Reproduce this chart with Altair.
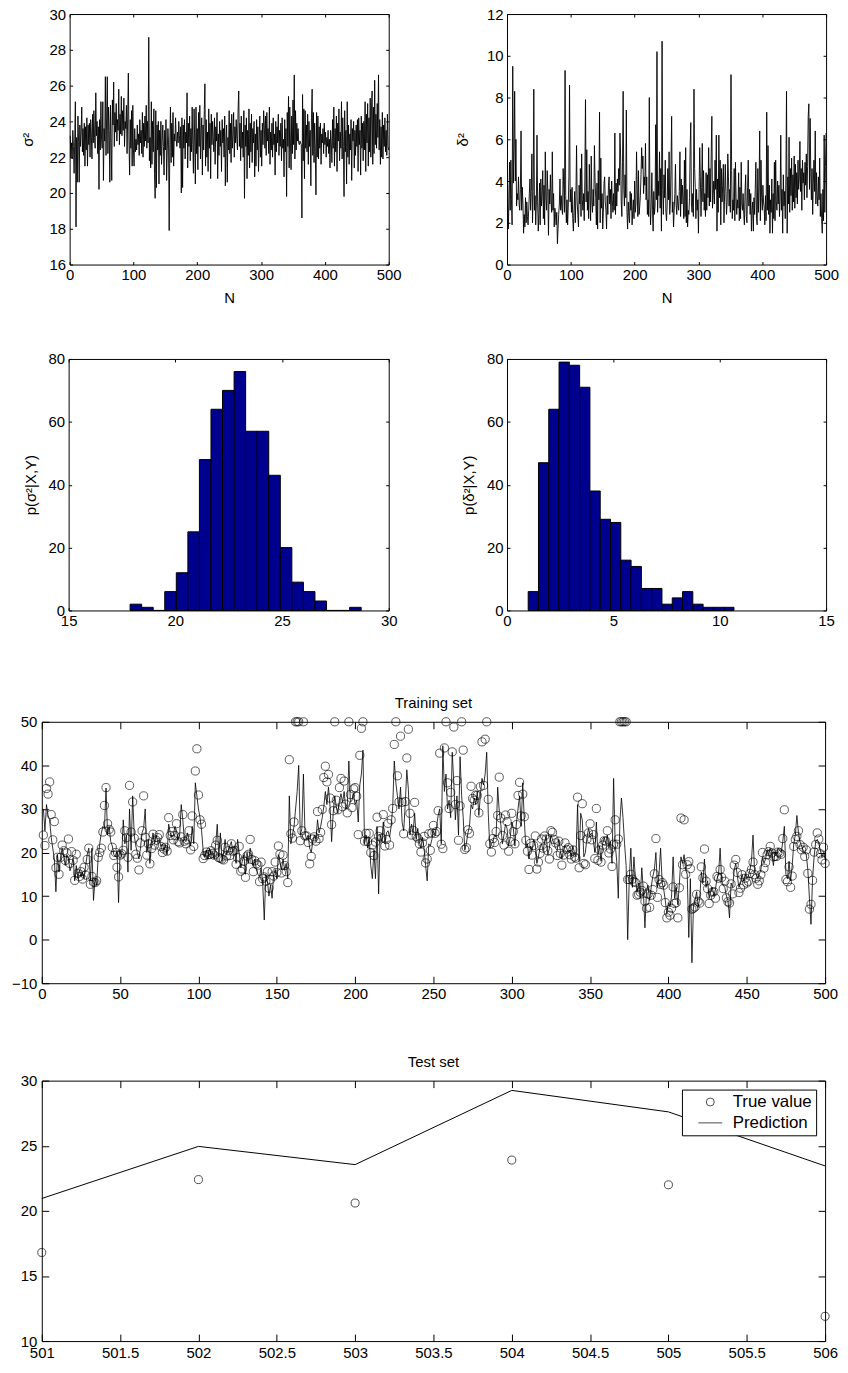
import altair as alt
import pandas as pd

FONT = "Liberation Sans"
FS = 15

# ---------------- data ----------------
sigma2 = [
    23.2, 22.0, 22.8, 21.9, 23.5, 22.6, 21.1, 23.0, 25.1, 18.1, 23.1, 20.6, 24.3, 22.9, 20.6, 23.8, 22.6, 23.4, 24.8, 22.3, 23.6, 22.1, 23.9, 21.5, 23.7,
    22.4, 24.2, 21.5, 23.8, 22.7, 23.9, 22.0, 24.1, 23.3, 21.9, 24.4, 22.8, 24.6, 23.1, 22.5, 25.6, 23.2, 24.0, 22.2, 23.7, 20.2, 24.1, 22.4, 25.1, 23.0,
    22.5, 25.1, 20.7, 23.6, 22.9, 26.5, 22.1, 24.3, 26.5, 22.2, 24.8, 23.5, 20.6, 24.9, 22.8, 20.7, 25.2, 23.8, 26.2, 22.6, 24.5, 23.4, 25.0, 22.9, 24.1,
    23.5, 25.8, 22.7, 24.4, 23.3, 25.4, 23.2, 24.6, 23.5, 25.3, 22.6, 24.0, 23.6, 24.9, 22.2, 24.3, 26.7, 22.9, 21.0, 24.1, 22.5, 24.6, 21.5, 24.9, 22.4,
    21.5, 23.6, 22.3, 23.0, 22.4, 23.8, 22.7, 23.3, 22.1, 24.1, 22.8, 23.5, 22.2, 24.5, 22.0, 23.9, 22.6, 24.3, 22.9, 24.9, 22.5, 24.0, 22.8, 28.7, 21.8,
    23.1, 21.4, 25.1, 21.6, 24.0, 22.3, 24.7, 21.1, 19.7, 24.6, 20.3, 23.8, 22.4, 24.0, 20.5, 23.5, 22.1, 24.0, 21.6, 22.9, 23.8, 22.6, 21.0, 23.5, 22.4,
    24.1, 20.7, 22.4, 23.6, 22.8, 17.9, 22.7, 24.8, 21.7, 23.9, 22.0, 24.5, 21.5, 23.3, 22.9, 24.2, 23.0, 22.6, 23.4, 22.8, 24.0, 23.2, 22.5, 23.7, 20.0,
    24.2, 20.3, 23.8, 22.5, 24.1, 21.9, 23.4, 22.8, 25.6, 21.4, 23.9, 22.6, 24.3, 21.8, 23.6, 22.3, 24.8, 22.7, 21.1, 24.7, 22.9, 20.5, 24.8, 22.2, 23.6,
    21.3, 24.5, 22.6, 24.9, 21.9, 23.5, 24.2, 21.0, 23.8, 22.4, 24.6, 26.1, 21.5, 24.1, 22.0, 23.4, 21.2, 24.7, 22.5, 23.9, 20.8, 24.4, 22.7, 24.0, 23.1,
    22.3, 24.2, 21.6, 23.7, 22.9, 24.5, 20.8, 23.3, 22.1, 24.0, 22.6, 23.5, 21.2, 24.1, 22.8, 23.6, 22.0, 24.3, 20.4, 22.9, 23.8, 20.6, 23.1, 22.4, 24.6,
    22.2, 23.9, 21.7, 24.4, 22.5, 23.2, 24.5, 22.0, 23.7, 22.8, 24.1, 23.0, 22.4, 24.7, 25.7, 22.6, 23.9, 21.8, 24.3, 22.5, 23.4, 22.0, 24.6, 19.7, 23.8,
    22.6, 24.2, 20.8, 23.5, 22.1, 24.7, 21.4, 23.9, 22.3, 24.4, 21.7, 23.6, 22.8, 24.0, 20.9, 23.3, 21.5, 24.1, 22.4, 23.7, 21.2, 22.9, 24.3, 22.0, 23.5,
    21.5, 23.9, 22.7, 24.6, 23.8, 22.5, 24.3, 22.1, 24.5, 22.9, 23.6, 22.2, 24.8, 21.6, 23.4, 22.4, 23.9, 22.0, 24.2, 22.7, 23.3, 21.0, 24.0, 22.3, 23.7,
    22.8, 24.4, 22.1, 23.5, 22.6, 23.9, 21.8, 24.2, 22.5, 23.0, 20.9, 24.1, 22.3, 23.6, 19.8, 24.5, 22.6, 25.4, 21.4, 24.8, 22.9, 21.3, 24.3, 22.2, 25.2,
    22.7, 26.6, 21.9, 24.6, 22.4, 23.9, 22.9, 23.6, 22.8, 22.7, 22.9, 22.8, 22.7, 18.6, 25.5, 21.8, 24.7, 20.8, 24.6, 22.5, 23.8, 22.3, 24.4, 21.6, 24.0,
    22.6, 23.5, 20.4, 24.2, 25.8, 22.1, 24.5, 21.7, 23.9, 22.3, 19.9, 24.5, 22.0, 24.3, 21.9, 23.7, 22.5, 23.9, 21.6, 23.3, 22.8, 23.6, 22.2, 23.9, 22.7,
    23.4, 22.0, 23.1, 22.6, 23.5, 22.2, 23.0, 21.4, 23.5, 22.8, 21.7, 24.1, 22.5, 24.8, 21.5, 23.6, 22.3, 24.3, 21.2, 23.9, 22.9, 24.7, 21.8, 23.4, 22.5,
    25.1, 21.9, 24.2, 22.6, 19.8, 24.6, 22.3, 23.5, 20.5, 25.1, 22.0, 23.8, 21.6, 23.3, 22.4, 24.1, 20.7, 23.6, 22.9, 24.0, 21.4, 23.5, 22.1, 23.8, 22.6,
    24.1, 21.2, 24.2, 22.7, 23.5, 21.0, 24.3, 22.5, 23.9, 21.8, 24.0, 22.4, 25.1, 21.2, 24.4, 22.8, 25.0, 21.5, 24.2, 22.3, 25.3, 22.0, 24.7, 25.7, 21.6,
    24.8, 22.2, 26.3, 22.7, 24.4, 22.5, 25.0, 23.1, 26.6, 22.4, 24.1, 21.6, 23.7, 22.0, 24.5, 21.9, 23.8, 22.6, 24.2, 22.3, 23.5, 22.1, 24.4, 22.6, 22.4,
]

delta2 = [
    3.8, 1.7, 2.9, 4.9, 2.6, 5.0, 3.1, 1.9, 9.5, 3.9, 5.6, 8.3, 4.0, 6.0, 2.8, 3.4, 3.1, 4.2, 2.9, 2.6, 3.6, 6.4, 2.6, 3.7, 2.9,
    1.5, 2.4, 1.8, 3.2, 2.0, 3.0, 2.3, 1.9, 2.6, 3.4, 4.1, 2.6, 3.5, 5.3, 2.0, 3.5, 8.4, 2.6, 3.3, 1.9, 2.9, 6.2, 3.0, 1.6, 2.5,
    3.9, 1.9, 4.1, 2.8, 3.3, 4.5, 2.2, 3.8, 1.9, 5.4, 3.2, 2.6, 4.5, 3.5, 1.4, 3.6, 2.9, 4.3, 3.0, 2.5, 5.4, 2.6, 3.4, 1.8, 2.7,
    2.4, 1.9, 2.5, 1.0, 1.7, 2.4, 2.9, 4.1, 2.6, 3.3, 2.7, 2.4, 4.6, 3.6, 2.5, 9.3, 3.3, 2.0, 3.1, 1.9, 2.8, 4.2, 8.6, 3.0, 3.6,
    2.5, 3.7, 2.2, 1.6, 2.6, 3.5, 2.0, 3.3, 5.7, 3.0, 2.4, 1.8, 3.8, 2.9, 4.6, 2.3, 5.3, 3.1, 2.6, 3.4, 2.1, 4.1, 7.9, 3.0, 5.5,
    2.6, 3.5, 2.2, 4.8, 3.3, 2.1, 5.2, 3.0, 2.5, 3.6, 2.8, 5.7, 4.0, 3.2, 1.9, 3.9, 1.7, 4.5, 3.1, 7.3, 2.0, 5.1, 2.7, 3.4, 1.7,
    2.5, 3.9, 4.2, 3.0, 2.6, 1.7, 3.3, 2.4, 3.8, 4.2, 2.9, 3.6, 2.2, 4.0, 3.1, 2.5, 3.4, 2.6, 6.3, 2.4, 3.9, 2.8, 4.1, 3.5, 4.6,
    3.8, 6.3, 5.2, 3.0, 2.3, 4.9, 8.3, 3.6, 2.8, 4.3, 3.2, 7.4, 2.5, 1.7, 3.0, 2.3, 2.0, 3.5, 2.6, 3.4, 1.9, 2.6, 3.1, 2.2, 4.0,
    2.5, 2.9, 5.4, 3.6, 2.3, 4.5, 2.4, 2.8, 3.3, 4.3, 5.6, 4.6, 5.2, 3.4, 4.2, 3.8, 5.8, 3.1, 4.2, 2.4, 3.1, 2.3, 8.0, 2.9, 1.9,
    3.0, 4.4, 2.6, 1.6, 3.5, 2.4, 2.8, 6.7, 3.1, 10.2, 2.5, 4.0, 3.3, 5.4, 2.7, 4.6, 1.6, 10.7, 3.6, 2.4, 4.3, 3.2, 5.0, 2.5, 2.1,
    2.9, 4.6, 3.1, 5.4, 2.4, 3.0, 4.8, 7.1, 2.5, 3.0, 1.8, 2.6, 3.4, 4.8, 2.9, 2.4, 3.3, 2.9, 2.6, 3.5, 5.4, 2.3, 4.1, 2.9, 3.8,
    3.2, 2.2, 5.0, 2.3, 5.6, 2.0, 3.6, 1.8, 2.6, 2.4, 3.2, 5.6, 6.8, 2.9, 2.5, 3.4, 2.3, 8.4, 4.6, 3.7, 2.2, 3.6, 2.6, 3.1, 1.5,
    3.6, 5.6, 4.2, 2.3, 3.7, 5.8, 3.0, 4.5, 2.6, 3.4, 2.3, 4.4, 2.6, 4.3, 3.2, 5.6, 2.8, 4.6, 3.0, 5.3, 7.1, 2.7, 3.4, 4.0, 2.9,
    5.0, 3.6, 6.2, 1.6, 4.1, 2.5, 6.2, 3.2, 5.0, 1.9, 4.6, 3.0, 3.8, 4.8, 2.0, 3.4, 4.8, 3.5, 2.4, 3.0, 5.3, 4.2, 2.8, 3.6, 2.5,
    9.1, 4.5, 2.2, 3.1, 2.6, 4.6, 2.1, 4.9, 3.2, 2.4, 3.1, 2.7, 4.4, 2.1, 3.7, 2.2, 4.9, 2.9, 2.6, 3.4, 2.4, 1.9, 3.5, 4.3, 2.3,
    2.0, 3.7, 5.0, 2.8, 3.6, 2.4, 3.4, 1.6, 2.6, 3.0, 1.6, 3.2, 2.4, 3.6, 4.9, 2.2, 1.9, 4.6, 2.5, 3.7, 6.4, 2.1, 5.0, 3.2, 2.6,
    3.8, 3.0, 2.7, 1.9, 3.3, 2.1, 7.3, 2.6, 5.7, 2.4, 3.8, 1.5, 3.1, 2.5, 4.1, 1.5, 3.4, 2.2, 4.9, 2.1, 5.0, 3.0, 2.6, 4.0, 2.9,
    3.8, 2.3, 3.2, 6.2, 2.6, 3.6, 1.5, 4.3, 2.8, 3.5, 2.2, 4.1, 8.3, 1.5, 4.2, 2.9, 6.1, 2.5, 4.6, 3.3, 5.1, 2.6, 4.3, 3.0, 5.2,
    2.7, 4.8, 3.2, 4.4, 2.9, 5.0, 3.6, 4.1, 5.9, 3.5, 4.6, 2.6, 5.0, 3.9, 4.4, 3.1, 4.9, 3.8, 5.3, 3.2, 4.7, 7.1, 7.7, 3.6, 7.0,
    4.4, 3.1, 4.6, 2.4, 3.9, 5.0, 3.5, 6.4, 2.9, 4.4, 3.3, 2.8, 4.2, 3.1, 5.1, 2.3, 3.4, 2.2, 1.5, 3.6, 2.1, 6.2, 2.5, 4.7, 6.3,
]

sigma_edges = [17.880, 18.422, 18.963, 19.505, 20.046, 20.588, 21.129, 21.671, 22.212, 22.754, 23.295,
               23.837, 24.378, 24.920, 25.461, 26.003, 26.544, 27.086, 27.627, 28.169, 28.710]
sigma_counts = [2, 1, 0, 6, 12, 25, 48, 64, 70, 76, 57, 57, 43, 20, 9, 6, 3, 0, 0, 1]

delta_edges = [0.996, 1.480, 1.963, 2.447, 2.931, 3.415, 3.898, 4.382, 4.866, 5.349, 5.833,
               6.317, 6.800, 7.284, 7.768, 8.252, 8.735, 9.219, 9.703, 10.186, 10.670]
delta_counts = [6, 47, 64, 79, 78, 71, 38, 29, 28, 16, 14, 7, 7, 2, 4, 6, 2, 1, 1, 1]

train_true = [
    24.0, 21.6, 34.7, 33.4, 36.2, 28.7, 22.9, 27.1, 16.5, 18.9,
    15.0, 18.9, 21.7, 20.4, 18.2, 19.9, 23.1, 17.5, 20.2, 18.2,
    13.6, 19.6, 15.2, 14.5, 15.6, 13.9, 16.6, 14.8, 18.4, 21.0,
    12.7, 14.5, 13.2, 13.1, 13.5, 18.9, 20.0, 21.0, 24.7, 30.8,
    34.9, 26.6, 25.3, 24.7, 21.2, 19.3, 20.0, 16.6, 14.4, 19.4,
    19.7, 20.5, 25.0, 23.4, 18.9, 35.4, 24.7, 31.6, 23.3, 19.6,
    18.7, 16.0, 22.2, 25.0, 33.0, 23.5, 19.4, 22.0, 17.4, 20.9,
    24.2, 21.7, 22.8, 23.4, 24.1, 21.4, 20.0, 20.8, 21.2, 20.3,
    28.0, 23.9, 24.8, 22.9, 23.9, 26.6, 22.5, 22.2, 23.6, 28.7,
    22.6, 22.0, 22.9, 25.0, 20.6, 28.4, 21.4, 38.7, 43.8, 33.2,
    27.5, 26.5, 18.6, 19.3, 20.1, 19.5, 19.5, 20.4, 19.8, 19.4,
    21.7, 22.8, 18.8, 18.7, 18.5, 18.3, 21.2, 19.2, 20.4, 19.3,
    22.0, 20.3, 20.5, 17.3, 18.8, 21.4, 15.7, 16.2, 18.0, 14.3,
    19.2, 19.6, 23.0, 18.4, 15.6, 18.1, 17.4, 17.1, 13.3, 17.8,
    14.0, 14.4, 13.4, 15.6, 11.8, 13.8, 15.6, 14.6, 17.8, 15.4,
    21.5, 19.6, 15.3, 19.4, 17.0, 15.6, 13.1, 41.3, 24.3, 23.3,
    27.0, 50.0, 50.0, 50.0, 22.7, 25.0, 50.0, 23.8, 23.8, 22.3,
    17.4, 19.1, 23.1, 23.6, 22.6, 29.4, 23.2, 24.6, 29.9, 37.2,
    39.8, 36.2, 37.9, 32.5, 26.4, 29.6, 50.0, 32.0, 29.8, 34.9,
    37.0, 30.5, 36.4, 31.1, 29.1, 50.0, 33.3, 30.3, 34.6, 34.9,
    32.9, 24.1, 42.3, 48.5, 50.0, 22.6, 24.4, 22.5, 24.4, 20.0,
    21.7, 19.3, 22.4, 28.1, 23.7, 25.0, 23.3, 28.7, 21.5, 23.0,
    26.7, 21.7, 27.5, 30.1, 44.8, 50.0, 37.6, 31.6, 46.7, 31.5,
    24.3, 31.7, 41.7, 48.3, 29.0, 24.0, 25.1, 31.5, 23.7, 23.3,
    22.0, 20.1, 22.2, 23.7, 17.6, 18.5, 24.3, 20.5, 24.5, 26.2,
    24.4, 24.8, 29.6, 42.8, 21.9, 20.9, 44.0, 50.0, 36.0, 30.1,
    33.8, 43.1, 48.8, 31.0, 36.5, 22.8, 30.7, 50.0, 43.5, 20.7,
    21.1, 25.2, 24.4, 35.2, 32.4, 32.0, 33.2, 33.1, 29.1, 35.1,
    45.4, 35.4, 46.0, 50.0, 32.2, 22.0, 20.1, 23.2, 22.3, 24.8,
    28.5, 37.3, 27.9, 23.9, 21.7, 28.6, 27.1, 20.3, 22.5, 29.0,
    24.8, 22.0, 26.4, 33.1, 36.1, 28.4, 33.4, 28.2, 22.8, 20.3,
    16.1, 22.1, 19.4, 21.6, 23.8, 16.2, 17.8, 19.8, 23.1, 21.0,
    23.8, 23.1, 20.4, 18.5, 25.0, 24.6, 23.0, 22.2, 19.3, 22.6,
    19.8, 17.1, 19.4, 22.2, 20.7, 21.1, 19.5, 18.5, 20.6, 19.0,
    18.7, 32.7, 16.5, 23.9, 31.2, 17.5, 17.2, 23.1, 24.5, 26.6,
    22.9, 24.1, 18.6, 30.1, 18.2, 20.6, 17.8, 21.7, 22.7, 22.6,
    25.0, 19.9, 20.8, 16.8, 21.9, 27.5, 21.9, 23.1, 50.0, 50.0,
    50.0, 50.0, 50.0, 13.8, 13.8, 15.0, 13.9, 13.3, 13.1, 10.2,
    10.4, 10.9, 11.3, 12.3, 8.8, 7.2, 10.5, 7.4, 10.2, 11.5,
    15.1, 23.2, 9.7, 13.8, 12.7, 13.1, 12.5, 8.5, 5.0, 6.3,
    5.6, 7.2, 12.1, 8.3, 8.5, 5.0, 11.9, 27.9, 17.2, 27.5,
    15.0, 17.2, 17.9, 16.3, 7.0, 7.2, 7.5, 10.4, 8.8, 8.4,
    16.7, 14.2, 20.8, 13.4, 11.7, 8.3, 10.2, 10.9, 11.0, 9.5,
    14.5, 14.1, 16.1, 14.3, 11.7, 13.4, 9.6, 8.7, 8.4, 12.8,
    10.5, 17.1, 18.4, 15.4, 10.8, 11.8, 14.9, 12.6, 14.1, 13.0,
    13.4, 15.2, 16.1, 17.8, 14.9, 14.1, 12.7, 13.5, 14.9, 20.0,
    16.4, 17.7, 19.5, 20.2, 21.4, 19.9, 19.0, 19.1, 19.1, 20.1,
    19.9, 19.6, 23.2, 29.8, 13.8, 13.3, 16.7, 12.0, 14.6, 21.4,
    23.0, 23.7, 25.0, 21.8, 20.6, 21.2, 19.1, 20.6, 15.2, 7.0,
    8.1, 13.6, 20.1, 21.8, 24.5, 23.1, 19.7, 18.3, 21.2, 17.5,
]

train_pred = [
    30.0, 25.0, 31.0, 28.5, 27.5, 23.5, 21.0, 18.5, 11.0, 19.5,
    15.5, 19.0, 21.0, 19.0, 17.0, 19.5, 18.5, 15.8, 17.0, 18.8,
    13.5, 17.0, 14.0, 16.0, 14.5, 15.5, 14.0, 17.0, 19.5, 21.0,
    13.5, 21.0, 9.0, 14.0, 12.5, 19.0, 22.0, 24.5, 26.0, 25.5,
    34.8, 24.0, 26.0, 22.5, 21.5, 19.5, 19.0, 20.5, 8.5, 20.5,
    19.0, 27.5, 22.0, 24.0, 15.5, 30.0, 20.5, 33.0, 24.0, 21.5,
    20.0, 18.5, 21.0, 24.5, 25.5, 30.0, 20.0, 23.0, 17.5, 22.5,
    24.5, 22.0, 24.0, 22.5, 23.0, 21.5, 22.0, 20.5, 21.8, 19.5,
    26.5, 24.5, 23.5, 24.0, 26.0, 25.0, 23.0, 24.0, 31.0, 27.5,
    23.0, 22.5, 24.5, 23.0, 21.5, 26.0, 22.0, 36.0, 33.0, 30.0,
    28.0, 25.0, 20.5, 19.0, 20.5, 18.5, 21.0, 19.5, 20.0, 18.5,
    22.0, 26.5, 19.0, 24.5, 18.0, 20.0, 23.0, 19.5, 20.5, 21.5,
    22.5, 20.0, 21.5, 17.5, 23.0, 20.0, 16.5, 18.0, 19.5, 15.0,
    20.0, 17.5, 21.0, 19.0, 17.0, 18.5, 16.0, 15.0, 14.5, 16.5,
    13.0, 4.5, 15.0, 13.5, 10.0, 12.5, 9.5, 15.0, 16.0, 14.0,
    19.5, 18.0, 16.0, 18.5, 16.0, 17.5, 14.0, 33.0, 22.0, 24.0,
    26.0, 30.0, 34.0, 40.0, 24.0, 25.5, 38.0, 24.5, 23.0, 24.0,
    21.0, 20.0, 22.5, 24.0, 23.0, 27.5, 24.5, 26.0, 28.0, 30.5,
    34.0, 31.0, 35.0, 30.5, 22.5, 29.0, 33.0, 30.5, 29.0, 32.0,
    33.5, 31.5, 34.0, 30.0, 30.5, 41.0, 31.5, 32.0, 33.5, 31.0,
    32.0, 27.0, 35.5, 38.0, 43.5, 22.0, 24.0, 21.0, 23.5, 17.0,
    14.0, 20.5, 14.0, 26.0, 10.5, 24.0, 22.5, 27.0, 22.0, 24.5,
    25.0, 23.5, 26.0, 30.5, 41.0, 36.0, 33.0, 30.0, 35.0, 27.0,
    25.0, 31.0, 39.0, 34.5, 24.0, 26.5, 24.5, 29.0, 23.0, 25.5,
    22.5, 21.0, 23.5, 21.0, 17.0, 13.5, 22.0, 21.5, 23.0, 25.0,
    24.0, 26.0, 28.5, 30.0, 22.0, 44.5, 34.0, 38.0, 30.0, 32.0,
    28.0, 43.0, 36.0, 27.5, 33.0, 24.0, 42.0, 33.0, 28.0, 20.5,
    22.0, 24.5, 26.0, 31.0, 30.0, 32.5, 31.0, 34.0, 28.5, 33.5,
    37.0, 35.5, 38.0, 43.0, 29.0, 21.0, 22.0, 22.5, 24.0, 23.5,
    35.0, 29.5, 26.5, 22.0, 24.0, 26.5, 25.5, 21.5, 23.5, 27.0,
    25.5, 21.5, 27.0, 30.0, 33.0, 26.0, 36.0, 27.5, 21.0, 22.0,
    18.5, 21.5, 20.5, 23.0, 22.0, 17.5, 19.0, 21.0, 22.0, 20.5,
    22.5, 24.0, 19.5, 21.0, 24.0, 23.0, 22.0, 21.0, 20.5, 23.0,
    20.5, 18.5, 20.5, 21.5, 21.0, 20.0, 20.5, 19.0, 21.5, 20.0,
    19.0, 31.0, 18.0, 29.0, 27.5, 19.0, 20.0, 23.5, 25.5, 24.0,
    24.5, 23.0, 20.0, 27.0, 19.5, 21.5, 18.0, 22.0, 23.5, 22.0,
    24.0, 21.0, 22.5, 17.5, 37.0, 22.0, 18.0, 9.5, 27.0, 32.5,
    28.0, 22.0, 17.0, 0.0, 14.0, 21.0, 12.0, 19.0, 13.5, 11.0,
    13.0, 9.5, 16.5, 11.0, 2.7, 11.0, 12.5, 9.0, 12.0, 14.5,
    16.0, 20.0, 12.0, 15.0, 21.0, 13.0, 11.5, 9.0, 6.0, 8.5,
    7.5, 10.0, 19.0, 9.5, 12.0, 8.0, 13.0, 19.0, 17.5, 19.5,
    16.0, 15.0, 0.5, 14.0, -5.3, 8.0, 9.0, 11.0, 7.5, 9.5,
    15.5, 13.0, 18.5, 12.0, 13.5, 9.5, 11.0, 12.0, 10.0, 11.5,
    14.0, 15.0, 21.0, 13.5, 12.5, 12.0, 10.0, 9.0, 5.0, 13.0,
    12.0, 16.0, 17.5, 14.5, 12.0, 13.0, 15.0, 13.5, 15.0, 14.0,
    14.5, 16.0, 18.0, 24.0, 15.5, 15.0, 14.0, 15.0, 16.0, 19.0,
    17.5, 18.5, 20.5, 19.5, 21.0, 20.0, 17.0, 20.0, 19.5, 21.0,
    20.5, 20.0, 22.5, 26.0, 15.0, 14.0, 18.0, 13.5, 17.0, 22.0,
    24.0, 28.5, 24.5, 22.5, 21.5, 20.5, 20.0, 19.5, 16.0, 9.5,
    3.5, 14.0, 19.0, 22.5, 23.0, 22.0, 20.5, 19.0, 20.0, 18.5,
]

test_x = [501, 502, 503, 504, 505, 506]
test_true = [16.8, 22.4, 20.6, 23.9, 22.0, 11.9]
test_pred = [20.95, 24.95, 23.55, 29.25, 27.6, 23.45]

trace_x_ticks = [0, 100, 200, 300, 400, 500]
sigma_y_ticks = [16, 18, 20, 22, 24, 26, 28, 30]
delta_y_ticks = [0, 2, 4, 6, 8, 10, 12]
hsig_x_ticks = [15, 20, 25, 30]
hdel_x_ticks = [0, 5, 10, 15]
hist_y_ticks = [0, 20, 40, 60, 80]
train_x_ticks = [0, 50, 100, 150, 200, 250, 300, 350, 400, 450, 500]
train_y_ticks = [-10, 0, 10, 20, 30, 40, 50]
test_x_ticks = [501, 501.5, 502, 502.5, 503, 503.5, 504, 504.5, 505, 505.5, 506]
test_y_ticks = [10, 15, 20, 25, 30]


# ---------------- helpers ----------------
def sc(d):
    return alt.Scale(domain=d, nice=False, zero=False)


def axis(orient, values, tick, labels=True, title=None, pad=4, title_pad=6, fmt=None):
    kw = dict(orient=orient, values=values, tickSize=tick, offset=-tick, minExtent=0,
              labels=labels, title=title, labelPadding=pad, titlePadding=title_pad)
    if fmt:
        kw["format"] = fmt
    return alt.Axis(**kw)


def frame_layer(xd, yd, xt, yt, tick):
    df = pd.DataFrame({"fx": [xd[0], xd[1]], "fy": [yd[0], yd[1]]})
    return alt.Chart(df).mark_point(opacity=0, size=1).encode(
        x=alt.X("fx:Q", scale=sc(xd), axis=axis("top", xt, tick, labels=False)),
        y=alt.Y("fy:Q", scale=sc(yd), axis=axis("right", yt, tick, labels=False)),
    )


def spacer(w, h):
    return alt.Chart(pd.DataFrame({"v": [0.0]})).mark_point(opacity=0, size=1).encode(
        x=alt.X("v:Q", axis=None, scale=alt.Scale(domain=[-1, 1])),
        y=alt.Y("v:Q", axis=None, scale=alt.Scale(domain=[-1, 1])),
    ).properties(width=w, height=h, view=alt.ViewBackground(stroke="transparent"))


def trace_panel(vals, yd, yt, ytitle, w, h, ytpad):
    df = pd.DataFrame({"N": list(range(1, len(vals) + 1)), "v": vals})
    line = alt.Chart(df).mark_line(color="black", strokeWidth=0.9).encode(
        x=alt.X("N:Q", scale=sc([0, 500]), axis=axis("bottom", trace_x_ticks, 3, title="N", pad=3, title_pad=8)),
        y=alt.Y("v:Q", scale=sc(yd), axis=axis("left", yt, 3, title=ytitle, pad=4, title_pad=ytpad)),
    )
    return alt.layer(line, frame_layer([0, 500], yd, trace_x_ticks, yt, 3)).resolve_axis(
        x="independent", y="independent").properties(width=w, height=h)


def hist_panel(edges, counts, xd, xt, ytitle, w, h):
    df = pd.DataFrame({"lo": edges[:-1], "hi": edges[1:], "c": counts})
    bars = alt.Chart(df).mark_bar(color="#00008F", stroke="black", strokeWidth=1).encode(
        x=alt.X("lo:Q", scale=sc(xd), axis=axis("bottom", xt, 3, pad=3)),
        x2="hi:Q",
        y=alt.Y("c:Q", scale=sc([0, 80]), axis=axis("left", hist_y_ticks, 3, title=ytitle, pad=4, title_pad=10)),
        y2=alt.datum(0),
    )
    return alt.layer(bars, frame_layer(xd, [0, 80], xt, hist_y_ticks, 3)).resolve_axis(
        x="independent", y="independent").properties(width=w, height=h)


def title_params(text):
    return alt.TitleParams(text, font=FONT, fontSize=FS, fontWeight="normal", color="black",
                           offset=-8, baseline="alphabetic", frame="group", anchor="middle")


# ---------------- panels ----------------
TL = trace_panel(sigma2, [16, 30], sigma_y_ticks, "σ²", 321, 252, 14)
TR = trace_panel(delta2, [0, 12], delta_y_ticks, "δ²", 321, 252, 16)
HL = hist_panel(sigma_edges, sigma_counts, [15, 30], hsig_x_ticks, "p(σ²|X,Y)", 322, 253)
HR = hist_panel(delta_edges, delta_counts, [0, 15], hdel_x_ticks, "p(δ²|X,Y)", 321, 253)

tr_true_df = pd.DataFrame({"N": list(range(1, len(train_true) + 1)), "v": train_true})
tr_pred_df = pd.DataFrame({"N": list(range(1, len(train_pred) + 1)), "v": train_pred})
tr_line = alt.Chart(tr_pred_df).mark_line(color="black", strokeWidth=0.8).encode(
    x=alt.X("N:Q", scale=sc([0, 500]), axis=axis("bottom", train_x_ticks, 7, pad=3)),
    y=alt.Y("v:Q", scale=sc([-10, 50]), axis=axis("left", train_y_ticks, 7, pad=5)),
)
tr_pts = alt.Chart(tr_true_df).mark_point(filled=False, color="black", size=68, strokeWidth=0.9).encode(
    x=alt.X("N:Q", scale=sc([0, 500]), axis=None),
    y=alt.Y("v:Q", scale=sc([-10, 50]), axis=None),
)
TRAIN = alt.layer(tr_line, tr_pts, frame_layer([0, 500], [-10, 50], train_x_ticks, train_y_ticks, 7)).resolve_axis(
    x="independent", y="independent").properties(width=788, height=263, title=title_params("Training set"))

te_true_df = pd.DataFrame({"x": test_x, "v": test_true, "series": ["True value"] * len(test_x)})
te_pred_df = pd.DataFrame({"x": test_x, "v": test_pred})
te_line = alt.Chart(te_pred_df).mark_line(color="black", strokeWidth=1).encode(
    x=alt.X("x:Q", scale=sc([501, 506]), axis=axis("bottom", test_x_ticks, 7, pad=5, fmt="~f")),
    y=alt.Y("v:Q", scale=sc([10, 30]), axis=axis("left", test_y_ticks, 7, pad=5)),
)
te_pts = alt.Chart(te_true_df).mark_point(filled=False, color="black", size=65, strokeWidth=1).encode(
    x=alt.X("x:Q", scale=sc([501, 506]), axis=None),
    y=alt.Y("v:Q", scale=sc([10, 30]), axis=None),
    shape=alt.Shape("series:N",
                    scale=alt.Scale(domain=["True value", "Prediction"], range=["circle", "M-3,0L3,0"]),
                    legend=alt.Legend(title=None, orient="top-right", offset=9, strokeColor="black",
                                      fillColor="white", padding=4, labelFont=FONT, labelFontSize=17,
                                      labelColor="black", symbolSize=64, symbolStrokeWidth=1,
                                      symbolStrokeColor="black", symbolFillColor="transparent",
                                      rowPadding=3, labelOffset=14, symbolOffset=16)),
)
TEST = alt.layer(te_line, te_pts, frame_layer([501, 506], [10, 30], test_x_ticks, test_y_ticks, 7)).resolve_axis(
    x="independent", y="independent").properties(width=788, height=262, title=title_params("Test set"))

row1 = alt.hconcat(spacer(61, 338), TL, spacer(119, 1), TR, spacing=0, bounds="flush")
row2 = alt.hconcat(spacer(60, 337), HL, spacer(119, 1), HR, spacing=0, bounds="flush")
row3 = alt.hconcat(spacer(33, 333), TRAIN, spacing=0, bounds="flush")
row4 = alt.hconcat(spacer(33, 262), TEST, spacing=0, bounds="flush").resolve_legend(shape="independent")

chart = alt.vconcat(row1, row2, row3, row4, spacing=0).resolve_legend(shape="independent").properties(
    padding={"top": -6, "left": 0, "right": 0, "bottom": 0}
).configure_view(
    stroke="black", strokeWidth=1
).configure_axis(
    domain=False, grid=False, tickColor="black", tickWidth=1, labelColor="black", minExtent=0,
    labelFont=FONT, labelFontSize=FS, titleFont=FONT, titleFontSize=FS,
    titleFontWeight="normal", titleColor="black", labelFlush=False, labelOverlap=False,
)

chart.save("out.html", embed_options={"renderer": "svg", "actions": False})
